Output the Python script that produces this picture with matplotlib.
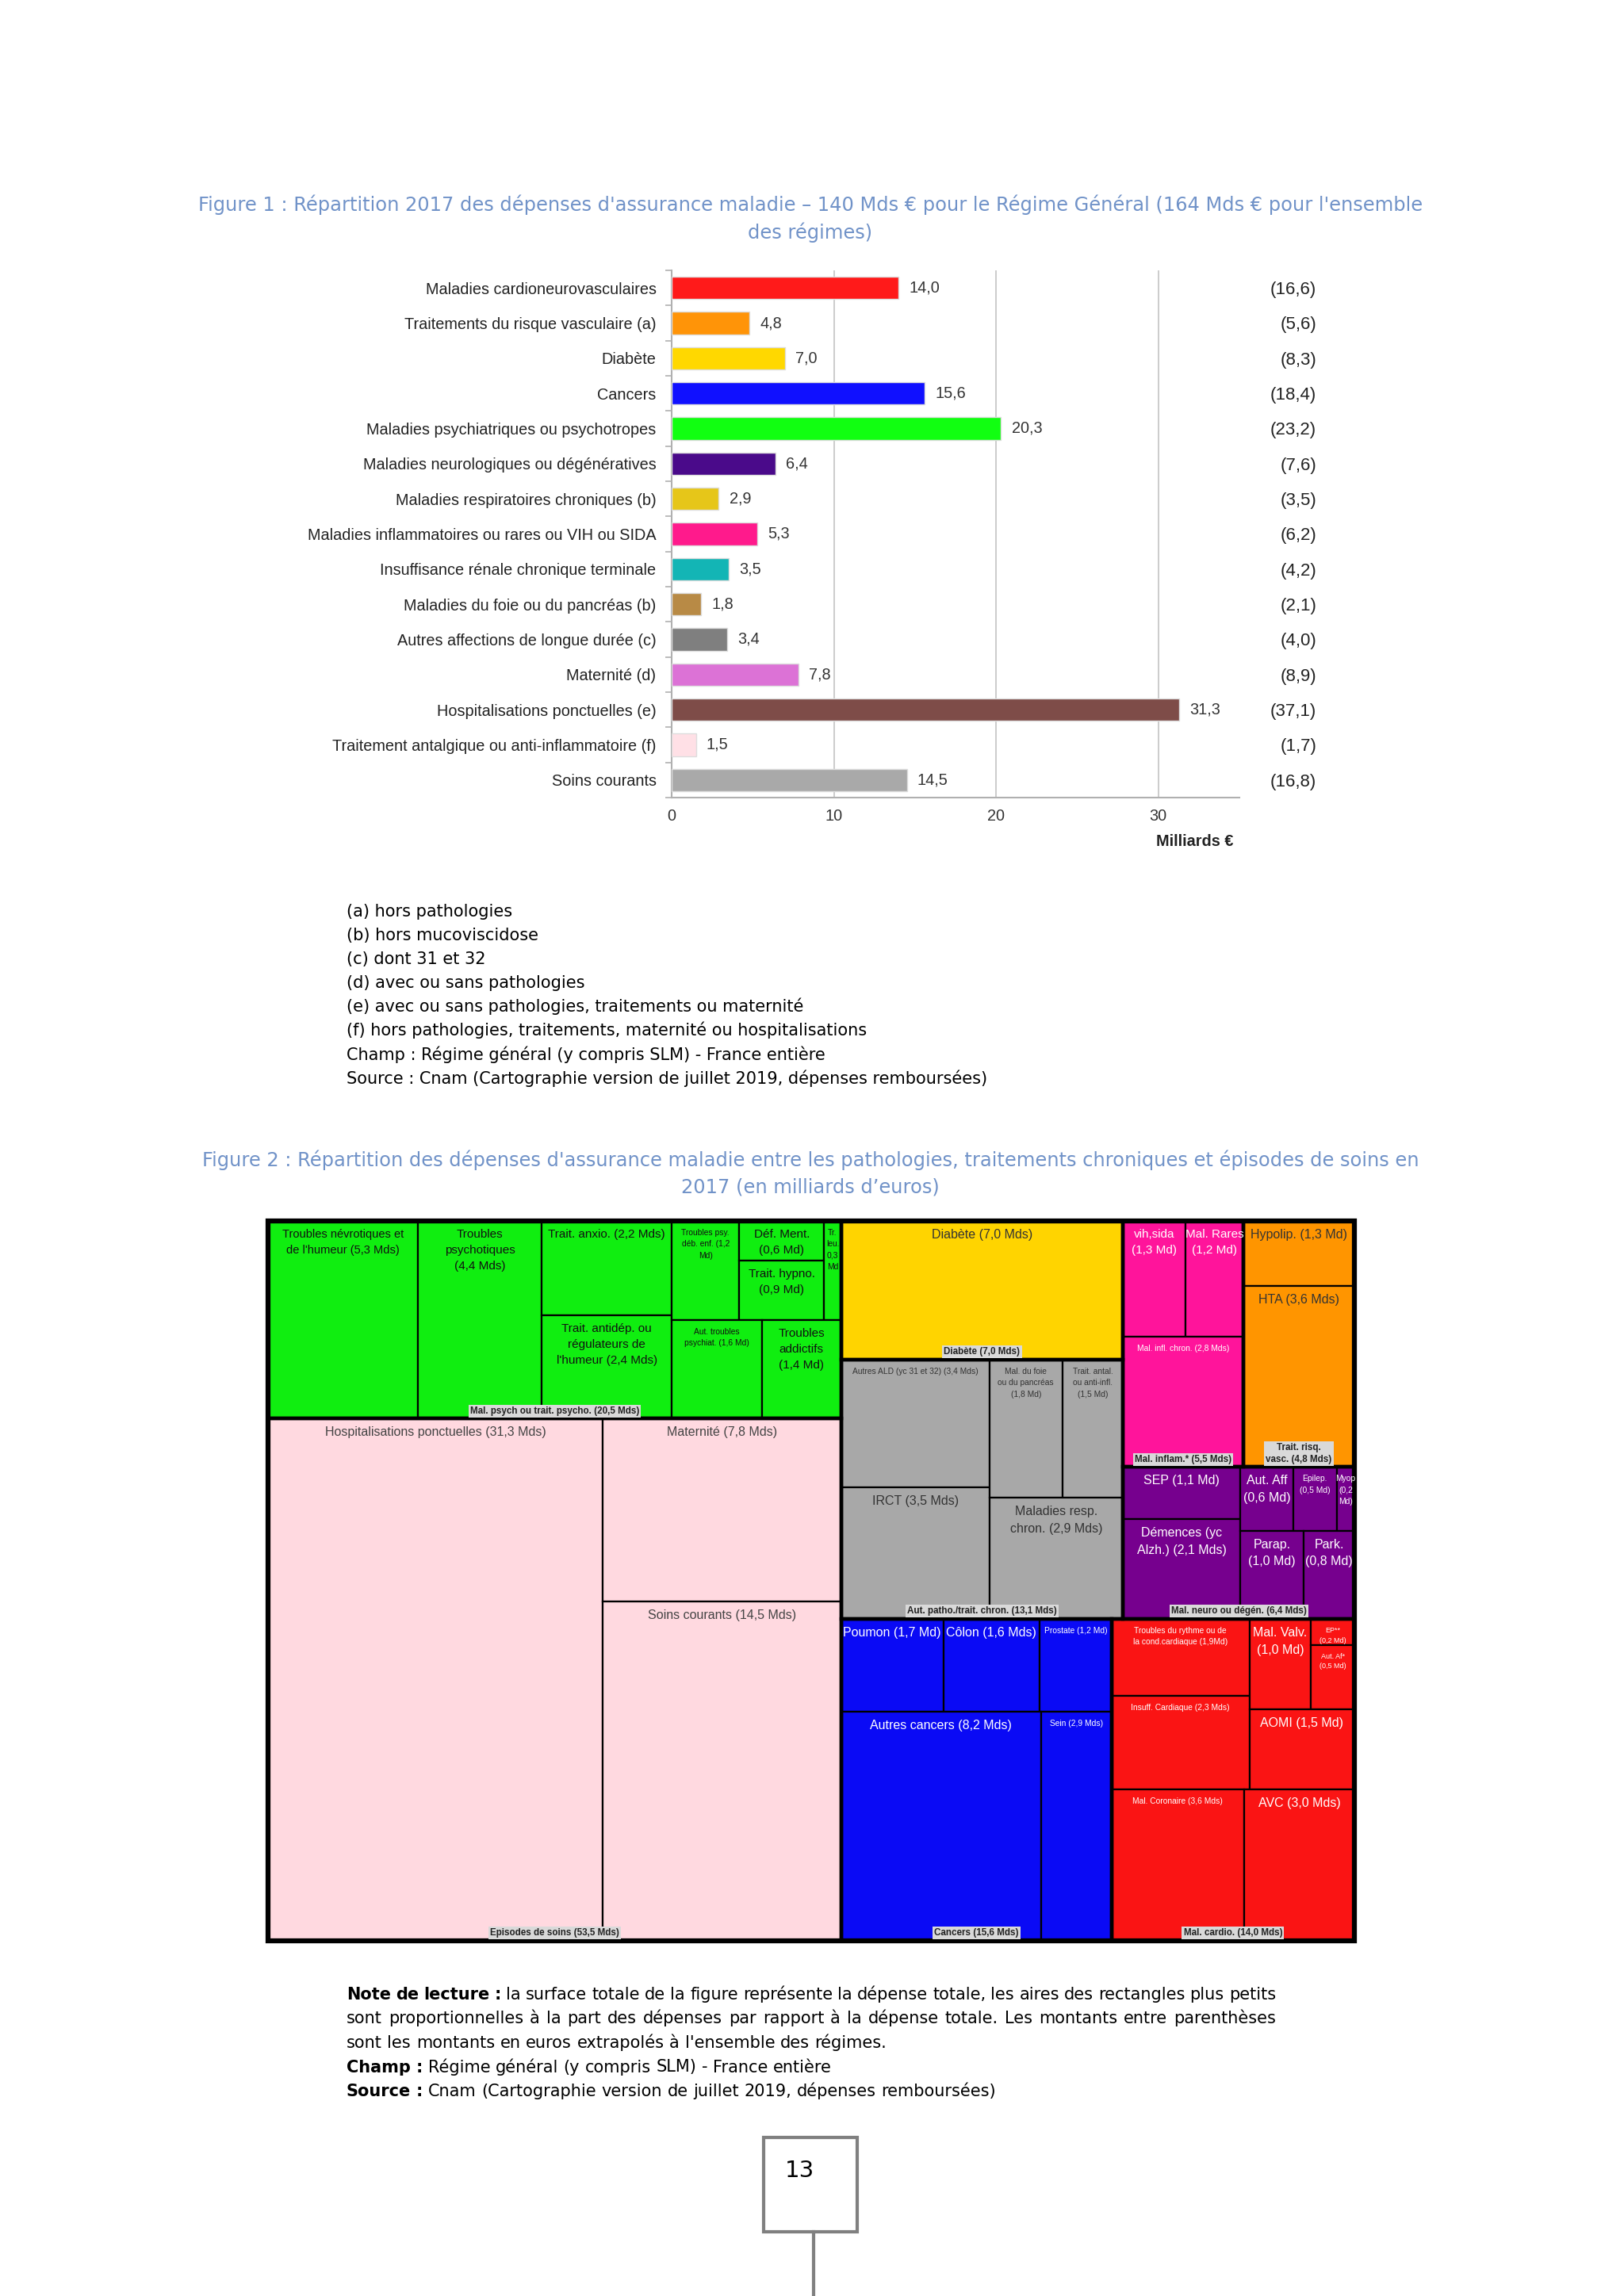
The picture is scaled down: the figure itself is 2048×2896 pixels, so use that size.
import matplotlib
import numpy as np

matplotlib.use('Agg')
import matplotlib.pyplot as plt
from matplotlib import font_manager
from matplotlib.patches import Rectangle
from matplotlib.lines import Line2D
from matplotlib.transforms import blended_transform_factory

# ---------------- Figure 1 : bar chart data
cat_labels = [
    'Maladies cardioneurovasculaires',
    'Traitements du risque vasculaire (a)',
    'Diabète',
    'Cancers',
    'Maladies psychiatriques ou psychotropes',
    'Maladies neurologiques ou dégénératives',
    'Maladies respiratoires chroniques (b)',
    'Maladies inflammatoires ou rares ou VIH ou SIDA',
    'Insuffisance rénale chronique terminale',
    'Maladies du foie ou du pancréas (b)',
    'Autres affections de longue durée (c)',
    'Maternité (d)',
    'Hospitalisations ponctuelles (e)',
    'Traitement antalgique ou anti-inflammatoire (f)',
    'Soins courants',
]
rg_values = [14.0, 4.8, 7.0, 15.6, 20.3, 6.4, 2.9, 5.3, 3.5, 1.8, 3.4, 7.8, 31.3, 1.5, 14.5]
all_values = [16.6, 5.6, 8.3, 18.4, 23.2, 7.6, 3.5, 6.2, 4.2, 2.1, 4.0, 8.9, 37.1, 1.7, 16.8]
bar_colors = ['#ff1a1a', '#ff9408', '#ffd800', '#1010ff', '#11ff11', '#4a0a8a', '#e6c619',
              '#ff1a8c', '#13b5b5', '#b88a45', '#7f7f7f', '#dc72d6', '#7e4c48', '#ffe0e6', '#a9a9a9']
x_ticks = [0, 10, 20, 30]

footnotes = [
    '(a) hors pathologies',
    '(b) hors mucoviscidose',
    '(c) dont 31 et 32',
    '(d) avec ou sans pathologies',
    '(e) avec ou sans pathologies, traitements ou maternité',
    '(f) hors pathologies, traitements, maternité ou hospitalisations',
    'Champ : Régime général (y compris SLM) - France entière',
    'Source : Cnam (Cartographie version de juillet 2019, dépenses remboursées)',
]

# ---------------- Figure 2 : treemap data
psy_labels = ["Troubles névrotiques et\nde l'humeur (5,3 Mds)", 'Troubles\npsychotiques\n(4,4 Mds)',
              'Trait. anxio. (2,2 Mds)', "Trait. antidép. ou\nrégulateurs de\nl'humeur (2,4 Mds)",
              'Troubles psy.\ndéb. enf. (1,2\nMd)', 'Déf. Ment.\n(0,6 Md)', 'Trait. hypno.\n(0,9 Md)',
              'Tr.\nleu.\n0,3\nMd', 'Aut. troubles\npsychiat. (1,6 Md)', 'Troubles\naddictifs\n(1,4 Md)']
psy_values = [5.3, 4.4, 2.2, 2.4, 1.2, 0.6, 0.9, 0.3, 1.6, 1.4]

dia_labels = ['Diabète (7,0 Mds)']
dia_values = [7.0]

inf_labels = ['vih,sida\n(1,3 Md)', 'Mal. Rares\n(1,2 Md)', 'Mal. infl. chron. (2,8 Mds)']
inf_values = [1.3, 1.2, 2.8]

risq_labels = ['Hypolip. (1,3 Md)', 'HTA (3,6 Mds)']
risq_values = [1.3, 3.6]

aut_labels = ['Autres ALD (yc 31 et 32) (3,4 Mds)', 'IRCT (3,5 Mds)', 'Mal. du foie\nou du pancréas\n(1,8 Md)',
              'Trait. antal.\nou anti-infl.\n(1,5 Md)', 'Maladies resp.\nchron. (2,9 Mds)']
aut_values = [3.4, 3.5, 1.8, 1.5, 2.9]

neu_labels = ['SEP (1,1 Md)', 'Démences (yc\nAlzh.) (2,1 Mds)', 'Aut. Aff\n(0,6 Md)', 'Epilep.\n(0,5 Md)',
              'Myop\n(0,2\nMd)', 'Parap.\n(1,0 Md)', 'Park.\n(0,8 Md)']
neu_values = [1.1, 2.1, 0.6, 0.5, 0.2, 1.0, 0.8]

epi_labels = ['Hospitalisations ponctuelles (31,3 Mds)', 'Maternité (7,8 Mds)', 'Soins courants (14,5 Mds)']
epi_values = [31.3, 7.8, 14.5]

can_labels = ['Poumon (1,7 Md)', 'Côlon (1,6 Mds)', 'Prostate (1,2 Md)', 'Autres cancers (8,2 Mds)', 'Sein (2,9 Mds)']
can_values = [1.7, 1.6, 1.2, 8.2, 2.9]

car_labels = ['Troubles du rythme ou de\nla cond.cardiaque (1,9Md)', 'Insuff. Cardiaque (2,3 Mds)',
              'Mal. Valv.\n(1,0 Md)', 'EP**\n(0,2 Md)', 'Aut. Af*\n(0,5 Md)', 'AOMI (1,5 Md)',
              'Mal. Coronaire (3,6 Mds)', 'AVC (3,0 Mds)']
car_values = [1.9, 2.3, 1.0, 0.2, 0.5, 1.5, 3.6, 3.0]

group_titles = {
    'psy': 'Mal. psych ou trait. psycho. (20,5 Mds)',
    'dia': 'Diabète (7,0 Mds)',
    'inf': 'Mal. inflam.* (5,5 Mds)',
    'risq': 'Trait. risq.\nvasc. (4,8 Mds)',
    'aut': 'Aut. patho./trait. chron. (13,1 Mds)',
    'neu': 'Mal. neuro ou dégén. (6,4 Mds)',
    'epi': 'Episodes de soins (53,5 Mds)',
    'can': 'Cancers (15,6 Mds)',
    'car': 'Mal. cardio. (14,0 Mds)',
}

# how the rectangles are nested ('h' side by side, 'v' stacked)
psy_tree = ('h', [0, 1, ('v', [2, 3]), ('v', [('h', [4, ('v', [5, 6]), 7]), ('h', [8, 9])])])
dia_tree = 0
inf_tree = ('v', [('h', [0, 1]), 2])
risq_tree = ('v', [0, 1])
aut_tree = ('h', [('v', [0, 1]), ('v', [('h', [2, 3]), 4])])
neu_tree = ('h', [('v', [0, 1]), ('v', [('h', [2, 3, 4]), ('h', [5, 6])])])
epi_tree = ('h', [0, ('v', [1, 2])])
can_tree = ('v', [('h', [0, 1, 2]), ('h', [3, 4])])
car_tree = ('v', [('h', [('v', [0, 1]), ('v', [('h', [2, ('v', [3, 4])]), 5])]), ('h', [6, 7])])
top_tree = ('h', [('v', ['psy', 'epi']),
                  ('v', [('h', [('v', ['dia', 'aut']), ('v', [('h', ['inf', 'risq']), 'neu'])]),
                         ('h', ['can', 'car'])])])

B, S = 11.5, 7.4   # big / small label sizes
groups = {
    'psy': dict(labels=psy_labels, values=psy_values, tree=psy_tree, color='#10ee10', tc='#111111',
                fs=[10.5, 11, 11, 11, S, 11, 11, S, S, 11]),
    'dia': dict(labels=dia_labels, values=dia_values, tree=dia_tree, color='#ffd400', tc='#333333', fs=[B]),
    'inf': dict(labels=inf_labels, values=inf_values, tree=inf_tree, color='#ff149b', tc='white', fs=[11, 11, S]),
    'risq': dict(labels=risq_labels, values=risq_values, tree=risq_tree, color='#ff9500', tc='#333333', fs=[B, B]),
    'aut': dict(labels=aut_labels, values=aut_values, tree=aut_tree, color='#a8a8a8', tc='#333333',
                fs=[S, B, S, S, B]),
    'neu': dict(labels=neu_labels, values=neu_values, tree=neu_tree, color='#76008e', tc='white',
                fs=[B, B, B, S, S, B, B]),
    'epi': dict(labels=epi_labels, values=epi_values, tree=epi_tree, color='#ffd9e0', tc='#444444', fs=[B, B, B]),
    'can': dict(labels=can_labels, values=can_values, tree=can_tree, color='#0a0af5', tc='white',
                fs=[B, B, S, B, S]),
    'car': dict(labels=car_labels, values=car_values, tree=car_tree, color='#fa1414', tc='white',
                fs=[S, S, B, 6.5, 6.5, B, S, B]),
}

note_parts = [
    [('Note de lecture :', True), ('la surface totale de la figure représente la dépense totale, '
                                   'les aires des rectangles plus petits', False)],
    [('sont proportionnelles à la part des dépenses par rapport à la dépense totale. '
      'Les montants entre parenthèses', False)],
    [("sont les montants en euros extrapolés à l'ensemble des régimes.", False)],
    [('Champ :', True), ('Régime général (y compris SLM) - France entière', False)],
    [('Source :', True), ('Cnam (Cartographie version de juillet 2019, dépenses remboursées)', False)],
]

# ---------------- page
W, H = 2048, 2896
fig = plt.figure(figsize=(W / 100, H / 100), dpi=100)
fig.patch.set_facecolor('white')


def fx(x):
    return x / W


def fy(y):
    return 1 - y / H


def fmt(v):
    return f'{v:.1f}'.replace('.', ',')


names = {f.name for f in font_manager.fontManager.ttflist}
if 'Liberation Sans Narrow' in names:
    bar_font, bar_fs = 'Liberation Sans Narrow', 17.5
else:
    bar_font, bar_fs = 'Liberation Sans', 14.3

title_color = '#7092c8'
title_fs = 17.4
fig.text(fx(1022), fy(258), "Figure 1 : Répartition 2017 des dépenses d'assurance maladie – 140 Mds € pour le "
         "Régime Général (164 Mds € pour l'ensemble", ha='center', va='center', fontsize=title_fs, color=title_color)
fig.text(fx(1022), fy(293), 'des régimes)', ha='center', va='center', fontsize=title_fs, color=title_color)

# bar chart
ax = fig.add_axes([fx(847), fy(1006), (1563 - 847) / W, (1006 - 341) / H])
ypos = np.arange(len(cat_labels))
ax.barh(ypos, rg_values, height=0.64, color=bar_colors, edgecolor='#dddddd', linewidth=1, zorder=3)
ax.set_xlim(0, 35)
ax.set_ylim(len(cat_labels) - 0.5, -0.5)
ax.set_xticks(x_ticks)
ax.set_xticklabels([str(t) for t in x_ticks], family=bar_font, fontsize=bar_fs, color='#333333')
ax.xaxis.grid(True, color='#c8c8c8', lw=1.3)
ax.set_axisbelow(True)
ax.set_yticks(ypos)
ax.set_yticklabels(cat_labels, family=bar_font, fontsize=bar_fs, color='#222222')
ax.set_yticks(np.arange(-0.5, len(cat_labels)), minor=True)
ax.tick_params(axis='y', which='major', length=0, pad=14)
ax.tick_params(axis='y', which='minor', length=6, color='#b0b0b0', width=1.2)
ax.tick_params(axis='x', length=0, pad=10)
for s in ['top', 'right']:
    ax.spines[s].set_visible(False)
for s in ['left', 'bottom']:
    ax.spines[s].set_color('#b0b0b0')
    ax.spines[s].set_linewidth(1.5)
for yi, v in zip(ypos, rg_values):
    ax.text(v + 0.65, yi, fmt(v), va='center', family=bar_font, fontsize=bar_fs, color='#333333')
tr = blended_transform_factory(ax.transAxes, ax.transData)
for yi, v in zip(ypos, all_values):
    ax.text(1.1357, yi + 0.05, f'({fmt(v)})', transform=tr, ha='right', va='center',
            family='Liberation Sans', fontsize=16, color='#222222')
ax.text(0.99, -0.083, 'Milliards €', transform=ax.transAxes, ha='right', va='center',
        family=bar_font, fontsize=bar_fs, weight='bold', color='#222222')

text_fs = 15
for i, line in enumerate(footnotes):
    fig.text(fx(437), fy(1156 + 30.1 * i), line, va='baseline', fontsize=text_fs, color='black')

fig.text(fx(1022), fy(1463), "Figure 2 : Répartition des dépenses d'assurance maladie entre les pathologies, "
         "traitements chroniques et épisodes de soins en", ha='center', va='center', fontsize=title_fs,
         color=title_color)
fig.text(fx(1022), fy(1498), '2017 (en milliards d’euros)', ha='center', va='center', fontsize=title_fs,
         color=title_color)


# treemap
def tree_sum(node, g):
    if isinstance(node, str):
        return tree_sum(groups[node]['tree'], node)
    if isinstance(node, int):
        return groups[g]['values'][node]
    return sum(tree_sum(c, g) for c in node[1])


def layout(node, g, x, y, w, h, cells, boxes):
    if isinstance(node, str):
        boxes.append((node, x, y, w, h))
        layout(groups[node]['tree'], node, x, y, w, h, cells, boxes)
        return
    if isinstance(node, int):
        cells.append((g, node, x, y, w, h))
        return
    direction, children = node
    total = tree_sum(node, g)
    pos = 0.0
    for c in children:
        f = tree_sum(c, g) / total
        if direction == 'h':
            layout(c, g, x + pos * w, y, f * w, h, cells, boxes)
        else:
            layout(c, g, x, y + pos * h, w, f * h, cells, boxes)
        pos += f


cells, boxes = [], []
layout(top_tree, None, 0.0, 0.0, 1.0, 1.0, cells, boxes)

ax2 = fig.add_axes([fx(338), fy(2448), 1370 / W, 908 / H])
ax2.set_xlim(0, 1)
ax2.set_ylim(1, 0)
ax2.axis('off')
for g, i, x, y, w, h in cells:
    gd = groups[g]
    ax2.add_patch(Rectangle((x, y), w, h, facecolor=gd['color'], edgecolor='black', lw=1.6))
    ax2.text(x + w / 2, y + 0.011, gd['labels'][i], ha='center', va='top', fontsize=gd['fs'][i],
             color=gd['tc'], family='Liberation Sans', linespacing=1.55)
for g, x, y, w, h in boxes:
    ax2.add_patch(Rectangle((x, y), w, h, fill=False, edgecolor='black', lw=3.2))
    ax2.text(x + w / 2, y + h - 0.004, group_titles[g], ha='center', va='bottom', fontsize=8.4,
             family='Liberation Sans', weight='bold', color='#222222', linespacing=1.3,
             bbox=dict(facecolor='#d9d9d9', edgecolor='none', pad=1.5))
ax2.add_patch(Rectangle((0, 0), 1, 1, fill=False, edgecolor='black', lw=4.5, clip_on=False))

# note de lecture (first two lines justified)
renderer = fig.canvas.get_renderer()
space_w = text_fs * 100 / 72 * 0.318
for li, parts in enumerate(note_parts):
    words = []
    for txt, bold in parts:
        words += [(wd, bold) for wd in txt.split()]
    yy = fy(2522 + 30.5 * li)
    arts = [fig.text(0, yy, wd, va='baseline', fontsize=text_fs, color='black',
                     weight='bold' if b else 'normal') for wd, b in words]
    widths = [a.get_window_extent(renderer).width for a in arts]
    if li < 2:
        gap = (1609 - 437 - sum(widths)) / (len(words) - 1)
    else:
        gap = space_w
    xx = 437
    for a, wd in zip(arts, widths):
        a.set_x(fx(xx))
        xx += wd + gap

# page number box
fig.add_artist(Rectangle((fx(963), fy(2815)), 118 / W, 119 / H, transform=fig.transFigure,
                         fill=False, edgecolor='#808080', lw=3))
fig.add_artist(Line2D([fx(1026), fx(1026)], [fy(2815), 0], transform=fig.transFigure, color='#808080', lw=3))
fig.text(fx(1008), fy(2738), '13', ha='center', va='center', fontsize=21, color='black')

fig.savefig('out.png', dpi=100, facecolor='white')
